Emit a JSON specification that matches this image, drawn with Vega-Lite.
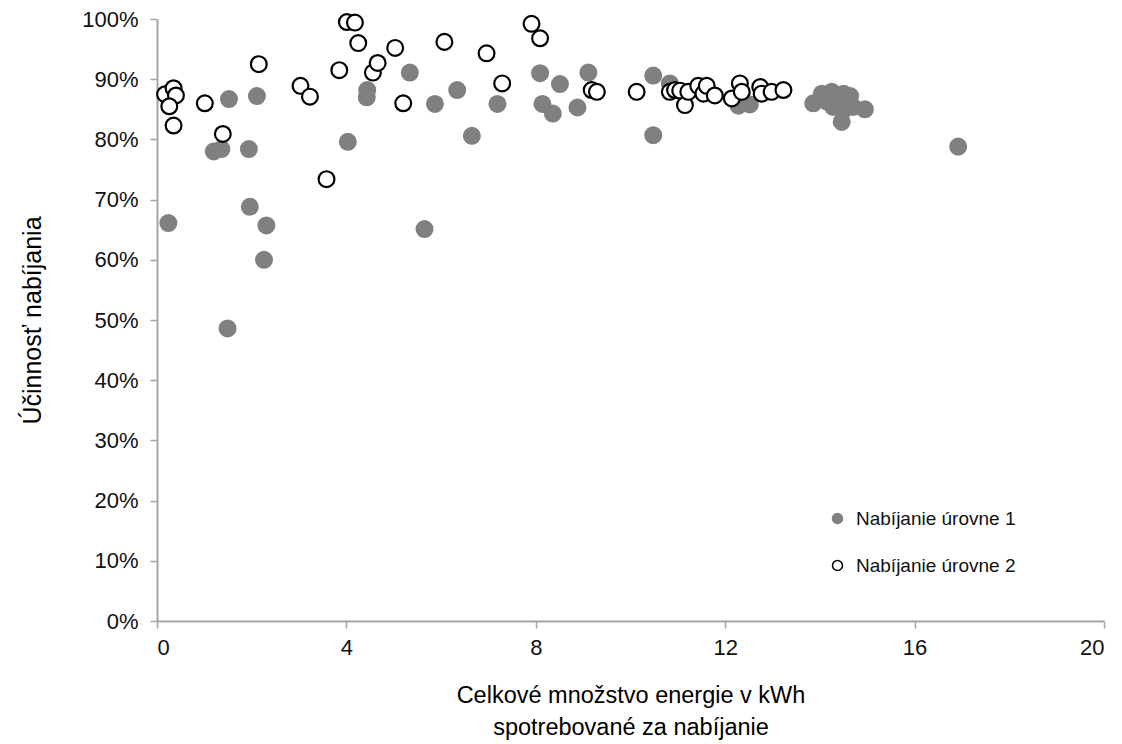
{
  "$schema": "https://vega.github.io/schema/vega-lite/v6.json",
  "width": 947,
  "height": 602,
  "autosize": {"type": "none"},
  "padding": {"left": 157, "top": 19, "right": 18, "bottom": 123},
  "background": "#ffffff",
  "config": {
    "view": {"stroke": null},
    "font": "Liberation Sans"
  },
  "data": {
    "values": [
      {"x": 0.2, "y": 0.875, "level": "Nabíjanie úrovne 1"},
      {"x": 0.24, "y": 0.661, "level": "Nabíjanie úrovne 1"},
      {"x": 1.52, "y": 0.867, "level": "Nabíjanie úrovne 1"},
      {"x": 2.11, "y": 0.872, "level": "Nabíjanie úrovne 1"},
      {"x": 1.2, "y": 0.78, "level": "Nabíjanie úrovne 1"},
      {"x": 1.36, "y": 0.784, "level": "Nabíjanie úrovne 1"},
      {"x": 1.94, "y": 0.784, "level": "Nabíjanie úrovne 1"},
      {"x": 1.96, "y": 0.688, "level": "Nabíjanie úrovne 1"},
      {"x": 2.31, "y": 0.657, "level": "Nabíjanie úrovne 1"},
      {"x": 2.26, "y": 0.6, "level": "Nabíjanie úrovne 1"},
      {"x": 1.49, "y": 0.486, "level": "Nabíjanie úrovne 1"},
      {"x": 4.44, "y": 0.882, "level": "Nabíjanie úrovne 1"},
      {"x": 4.43, "y": 0.87, "level": "Nabíjanie úrovne 1"},
      {"x": 4.03, "y": 0.796, "level": "Nabíjanie úrovne 1"},
      {"x": 5.34, "y": 0.911, "level": "Nabíjanie úrovne 1"},
      {"x": 5.87, "y": 0.859, "level": "Nabíjanie úrovne 1"},
      {"x": 6.34, "y": 0.882, "level": "Nabíjanie úrovne 1"},
      {"x": 5.65, "y": 0.651, "level": "Nabíjanie úrovne 1"},
      {"x": 6.65, "y": 0.806, "level": "Nabíjanie úrovne 1"},
      {"x": 7.19, "y": 0.859, "level": "Nabíjanie úrovne 1"},
      {"x": 8.09, "y": 0.91, "level": "Nabíjanie úrovne 1"},
      {"x": 8.51, "y": 0.892, "level": "Nabíjanie úrovne 1"},
      {"x": 8.14, "y": 0.859, "level": "Nabíjanie úrovne 1"},
      {"x": 8.36, "y": 0.843, "level": "Nabíjanie úrovne 1"},
      {"x": 8.88, "y": 0.853, "level": "Nabíjanie úrovne 1"},
      {"x": 9.11, "y": 0.911, "level": "Nabíjanie úrovne 1"},
      {"x": 10.48, "y": 0.906, "level": "Nabíjanie úrovne 1"},
      {"x": 10.48, "y": 0.807, "level": "Nabíjanie úrovne 1"},
      {"x": 10.83, "y": 0.893, "level": "Nabíjanie úrovne 1"},
      {"x": 12.28, "y": 0.856, "level": "Nabíjanie úrovne 1"},
      {"x": 12.52, "y": 0.858, "level": "Nabíjanie úrovne 1"},
      {"x": 12.4, "y": 0.862, "level": "Nabíjanie úrovne 1"},
      {"x": 13.86, "y": 0.86, "level": "Nabíjanie úrovne 1"},
      {"x": 14.04, "y": 0.876, "level": "Nabíjanie úrovne 1"},
      {"x": 14.25, "y": 0.879, "level": "Nabíjanie úrovne 1"},
      {"x": 14.14, "y": 0.863, "level": "Nabíjanie úrovne 1"},
      {"x": 14.5, "y": 0.876, "level": "Nabíjanie úrovne 1"},
      {"x": 14.64, "y": 0.872, "level": "Nabíjanie úrovne 1"},
      {"x": 14.28, "y": 0.854, "level": "Nabíjanie úrovne 1"},
      {"x": 14.5, "y": 0.849, "level": "Nabíjanie úrovne 1"},
      {"x": 14.46, "y": 0.829, "level": "Nabíjanie úrovne 1"},
      {"x": 14.7, "y": 0.854, "level": "Nabíjanie úrovne 1"},
      {"x": 14.95, "y": 0.85, "level": "Nabíjanie úrovne 1"},
      {"x": 14.35, "y": 0.865, "level": "Nabíjanie úrovne 1"},
      {"x": 16.92, "y": 0.788, "level": "Nabíjanie úrovne 1"},
      {"x": 0.17, "y": 0.875, "level": "Nabíjanie úrovne 2"},
      {"x": 0.35, "y": 0.885, "level": "Nabíjanie úrovne 2"},
      {"x": 0.4, "y": 0.873, "level": "Nabíjanie úrovne 2"},
      {"x": 0.26, "y": 0.855, "level": "Nabíjanie úrovne 2"},
      {"x": 0.35, "y": 0.823, "level": "Nabíjanie úrovne 2"},
      {"x": 1.01, "y": 0.86, "level": "Nabíjanie úrovne 2"},
      {"x": 1.39, "y": 0.809, "level": "Nabíjanie úrovne 2"},
      {"x": 2.15, "y": 0.925, "level": "Nabíjanie úrovne 2"},
      {"x": 3.03, "y": 0.889, "level": "Nabíjanie úrovne 2"},
      {"x": 3.23, "y": 0.871, "level": "Nabíjanie úrovne 2"},
      {"x": 3.58, "y": 0.734, "level": "Nabíjanie úrovne 2"},
      {"x": 3.85, "y": 0.915, "level": "Nabíjanie úrovne 2"},
      {"x": 4.01, "y": 0.995, "level": "Nabíjanie úrovne 2"},
      {"x": 4.18, "y": 0.994, "level": "Nabíjanie úrovne 2"},
      {"x": 4.25, "y": 0.96, "level": "Nabíjanie úrovne 2"},
      {"x": 4.56, "y": 0.911, "level": "Nabíjanie úrovne 2"},
      {"x": 4.66, "y": 0.927, "level": "Nabíjanie úrovne 2"},
      {"x": 5.03, "y": 0.952, "level": "Nabíjanie úrovne 2"},
      {"x": 5.2, "y": 0.86, "level": "Nabíjanie úrovne 2"},
      {"x": 6.07, "y": 0.962, "level": "Nabíjanie úrovne 2"},
      {"x": 6.96, "y": 0.943, "level": "Nabíjanie úrovne 2"},
      {"x": 7.29, "y": 0.893, "level": "Nabíjanie úrovne 2"},
      {"x": 7.91, "y": 0.992, "level": "Nabíjanie úrovne 2"},
      {"x": 8.09, "y": 0.968, "level": "Nabíjanie úrovne 2"},
      {"x": 9.18, "y": 0.882, "level": "Nabíjanie úrovne 2"},
      {"x": 9.29, "y": 0.879, "level": "Nabíjanie úrovne 2"},
      {"x": 10.13, "y": 0.879, "level": "Nabíjanie úrovne 2"},
      {"x": 10.83, "y": 0.879, "level": "Nabíjanie úrovne 2"},
      {"x": 10.94, "y": 0.882, "level": "Nabíjanie úrovne 2"},
      {"x": 11.05, "y": 0.881, "level": "Nabíjanie úrovne 2"},
      {"x": 11.15, "y": 0.857, "level": "Nabíjanie úrovne 2"},
      {"x": 11.22, "y": 0.879, "level": "Nabíjanie úrovne 2"},
      {"x": 11.43, "y": 0.889, "level": "Nabíjanie úrovne 2"},
      {"x": 11.54, "y": 0.876, "level": "Nabíjanie úrovne 2"},
      {"x": 11.61, "y": 0.889, "level": "Nabíjanie úrovne 2"},
      {"x": 11.78, "y": 0.873, "level": "Nabíjanie úrovne 2"},
      {"x": 12.14, "y": 0.868, "level": "Nabíjanie úrovne 2"},
      {"x": 12.31, "y": 0.893, "level": "Nabíjanie úrovne 2"},
      {"x": 12.35, "y": 0.879, "level": "Nabíjanie úrovne 2"},
      {"x": 12.74, "y": 0.887, "level": "Nabíjanie úrovne 2"},
      {"x": 12.77, "y": 0.876, "level": "Nabíjanie úrovne 2"},
      {"x": 12.98, "y": 0.879, "level": "Nabíjanie úrovne 2"},
      {"x": 13.23, "y": 0.882, "level": "Nabíjanie úrovne 2"}
    ]
  },
  "mark": {"type": "point", "filled": false, "shape": "circle", "size": 250, "strokeWidth": 2.2, "opacity": 1},
  "encoding": {
    "x": {
      "field": "x",
      "type": "quantitative",
      "scale": {"domain": [0, 20], "nice": false, "zero": true},
      "axis": {
        "values": [0, 4, 8, 12, 16, 20],
        "grid": false,
        "title": ["Celkové množstvo energie v kWh", "spotrebované za nabíjanie"],
        "titleFont": "Liberation Sans",
        "titleFontSize": 23.5,
        "titleFontWeight": "normal",
        "titleColor": "#000000",
        "titleLineHeight": 32,
        "titlePadding": 25,
        "labelFont": "Liberation Sans",
        "labelFontSize": 22,
        "labelColor": "#111111",
        "labelPadding": 9,
        "domainColor": "#a6a6a6",
        "domainWidth": 2,
        "tickColor": "#a6a6a6",
        "tickWidth": 1.5,
        "tickSize": 7
      }
    },
    "y": {
      "field": "y",
      "type": "quantitative",
      "scale": {"domain": [0, 1], "nice": false},
      "axis": {
        "values": [0, 0.1, 0.2, 0.3, 0.4, 0.5, 0.6, 0.7, 0.8, 0.9, 1],
        "format": ".0%",
        "grid": false,
        "title": "Účinnosť nabíjania",
        "titleFont": "Liberation Sans",
        "titleFontSize": 25,
        "titleFontWeight": "normal",
        "titleColor": "#000000",
        "titlePadding": 36,
        "labelFont": "Liberation Sans",
        "labelFontSize": 22,
        "labelColor": "#111111",
        "labelPadding": 12,
        "domainColor": "#a6a6a6",
        "domainWidth": 2,
        "tickColor": "#a6a6a6",
        "tickWidth": 1.5,
        "tickSize": 7
      }
    },
    "fill": {
      "field": "level",
      "type": "nominal",
      "scale": {"domain": ["Nabíjanie úrovne 1", "Nabíjanie úrovne 2"], "range": ["#808080", "#ffffff"]},
      "legend": {
        "title": null,
        "orient": "none",
        "legendX": 671,
        "legendY": 490,
        "padding": 0,
        "symbolSize": 100,
        "symbolStrokeWidth": 1.5,
        "labelFont": "Liberation Sans",
        "labelFontSize": 19,
        "labelColor": "#111111",
        "labelOffset": 9,
        "rowPadding": 27
      }
    },
    "stroke": {
      "field": "level",
      "type": "nominal",
      "scale": {"domain": ["Nabíjanie úrovne 1", "Nabíjanie úrovne 2"], "range": ["#808080", "#000000"]},
      "legend": null
    }
  }
}
